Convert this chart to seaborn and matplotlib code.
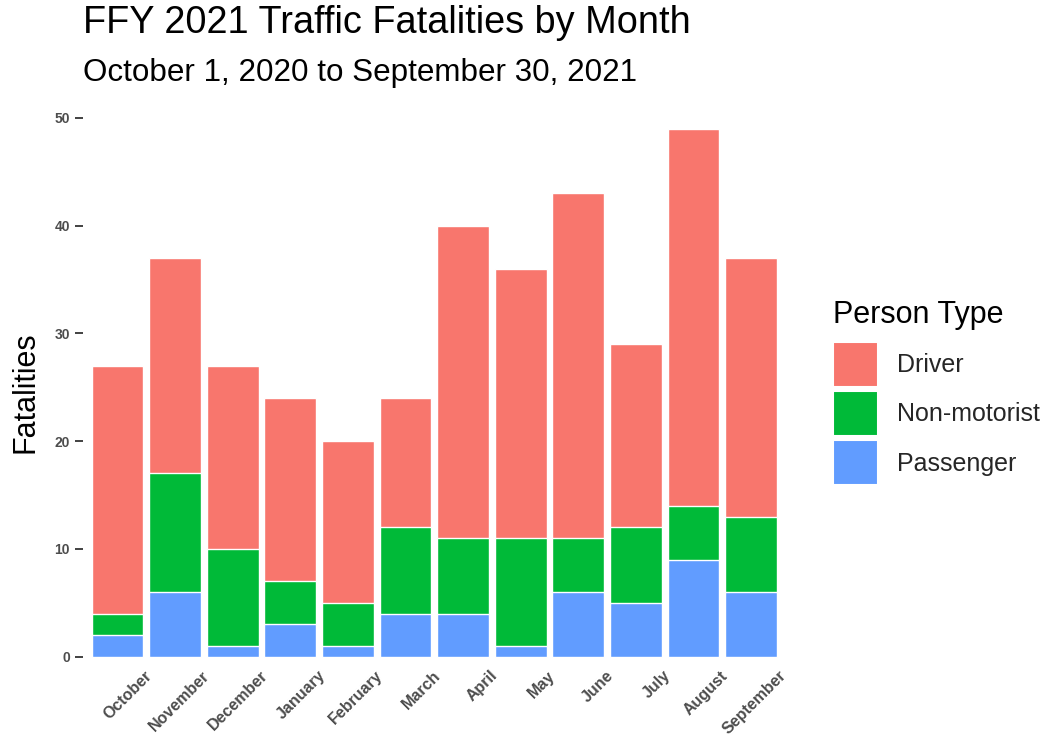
import matplotlib
matplotlib.use("Agg")
import matplotlib.pyplot as plt
import matplotlib.patches as mpatches
import matplotlib.transforms as mtransforms
import seaborn as sns
import pandas as pd
import numpy as np

months = ["October", "November", "December", "January", "February", "March",
          "April", "May", "June", "July", "August", "September"]
driver = [23, 20, 17, 17, 15, 12, 29, 25, 32, 17, 35, 24]
non_motorist = [2, 11, 9, 4, 4, 8, 7, 10, 5, 7, 5, 7]
passenger = [2, 6, 1, 3, 1, 4, 4, 1, 6, 5, 9, 6]
person_types = ["Driver", "Non-motorist", "Passenger"]
colors = ["#F8766D", "#00BA38", "#619CFF"]

sns.set_theme(style="white")
plt.rcParams['font.family'] = ['Liberation Sans', 'DejaVu Sans']

df = pd.DataFrame({"Month": months, "Driver": driver,
                   "Non-motorist": non_motorist, "Passenger": passenger})
df["top_p"] = df["Passenger"]
df["top_nm"] = df["Passenger"] + df["Non-motorist"]
df["top_d"] = df["top_nm"] + df["Driver"]

fig = plt.figure(figsize=(10.44, 7.36), dpi=100)
ax = fig.add_axes([0.0795, 0.072, 0.673, 0.789])

for col, c in [("top_d", colors[0]), ("top_nm", colors[1]), ("top_p", colors[2])]:
    sns.barplot(data=df, x="Month", y=col, order=months, color=c, width=0.9,
                saturation=1, edgecolor="white", linewidth=1.0, ax=ax)

ax.set_xlim(-0.6, 11.6)
ax.set_ylim(-2.45, 51.45)
ax.set_yticks([0, 10, 20, 30, 40, 50])
ax.set_xlabel("")
ax.set_ylabel("Fatalities", fontsize=22, color="black", labelpad=10)
for s in ax.spines.values():
    s.set_visible(False)
ax.grid(False)
ax.tick_params(axis="y", left=True, length=5.5, width=1.3, color="#333333",
               labelsize=10, labelcolor="#4d4d4d", pad=4)
ax.tick_params(axis="x", bottom=False, length=0, labelsize=11.5,
               labelcolor="#4d4d4d", pad=0)
for lab in ax.get_yticklabels():
    lab.set_fontweight("bold")
offset = mtransforms.ScaledTranslation(0.27, 0.15, fig.dpi_scale_trans)
for lab in ax.get_xticklabels():
    lab.set_rotation(45)
    lab.set_ha("right")
    lab.set_va("top")
    lab.set_rotation_mode("anchor")
    lab.set_fontweight("bold")
    lab.set_transform(lab.get_transform() + offset)

fig.text(0.0795, 0.969, "FFY 2021 Traffic Fatalities by Month", fontsize=27.3,
         ha="left", va="center", color="black")
fig.text(0.0795, 0.901, "October 1, 2020 to September 30, 2021", fontsize=22.6,
         ha="left", va="center", color="black")

fig.text(833 / 1044, 1 - 315 / 736, "Person Type", fontsize=22,
         ha="left", va="center", color="black")
handles = [mpatches.Patch(facecolor=c, edgecolor="white", linewidth=1.5, label=l)
           for c, l in zip(colors, person_types)]
leg = fig.legend(handles=handles, loc="upper left",
                 bbox_to_anchor=(833 / 1044, 1 - 342 / 736), frameon=False,
                 fontsize=18, handlelength=1.8, handleheight=2.4,
                 labelspacing=0.16, handletextpad=0.76, borderaxespad=0,
                 borderpad=0)

fig.savefig("out.png", dpi=100)
